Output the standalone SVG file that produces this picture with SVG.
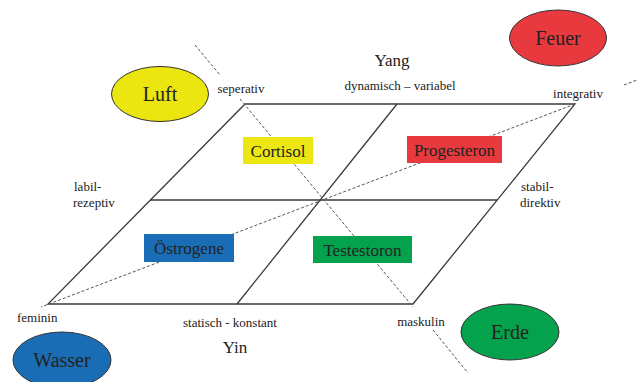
<svg xmlns="http://www.w3.org/2000/svg" width="637" height="382" viewBox="0 0 637 382">
<style>
.edge{stroke:#3a3a3a;stroke-width:1.3;fill:none}
.dash{stroke:#555;stroke-width:1;stroke-dasharray:3 2;fill:none}
.t{font-family:"Liberation Serif",serif;fill:#222}
.s{font-size:13px}
.m{font-size:17px}
.b{font-size:17px}
.e{font-size:20px}
.ell{stroke:#333;stroke-width:1}
</style>
<rect width="637" height="382" fill="#fff"/>
<g id="connectors">
<path class="edge" d="M245,104 L575,104 L413,304 L48,304 Z"/>
<line class="edge" x1="150" y1="200" x2="497" y2="200"/>
<line class="edge" x1="397" y1="104" x2="237" y2="304"/>
<line class="dash" x1="195" y1="45" x2="220" y2="75"/>
<line class="dash" x1="240" y1="99" x2="413" y2="307"/>
<line class="dash" x1="433" y1="330" x2="468" y2="373"/>
<line class="dash" x1="575" y1="104" x2="41" y2="307"/>
<line class="dash" x1="624" y1="85" x2="637" y2="80"/>
</g>
<g id="cortisol"><rect x="243" y="137" width="70" height="27" fill="#ece713"/><text class="t b" x="278" y="157" text-anchor="middle">Cortisol</text></g>
<g id="progesteron"><rect x="407" y="136" width="95" height="27" fill="#e8393f"/><text class="t b" x="454.5" y="156" text-anchor="middle">Progesteron</text></g>
<g id="oestrogene"><rect x="144" y="234" width="90" height="28" fill="#1a6db5"/><text class="t b" x="189" y="254" text-anchor="middle">Östrogene</text></g>
<g id="testestoron"><rect x="313" y="236" width="99" height="27" fill="#04a24c"/><text class="t b" x="362.5" y="256" text-anchor="middle">Testestoron</text></g>
<g id="luft"><ellipse class="ell" cx="160" cy="94" rx="48.5" ry="27.5" fill="#ebe510"/><text class="t e" x="160" y="101" text-anchor="middle">Luft</text></g>
<g id="feuer"><ellipse class="ell" cx="558" cy="38" rx="48.5" ry="28" fill="#e8393f"/><text class="t e" x="558" y="45" text-anchor="middle">Feuer</text></g>
<g id="wasser"><ellipse class="ell" cx="62" cy="360" rx="49" ry="28" fill="#1a6db5"/><text class="t e" x="62" y="367" text-anchor="middle">Wasser</text></g>
<g id="erde"><ellipse class="ell" cx="510" cy="332" rx="49" ry="28" fill="#04a24c"/><text class="t e" x="510" y="339" text-anchor="middle">Erde</text></g>
<g id="labels">
<text class="t m" x="392" y="66" text-anchor="middle">Yang</text>
<text class="t s" x="400" y="90" text-anchor="middle">dynamisch – variabel</text>
<text class="t s" x="578" y="98" text-anchor="middle">integrativ</text>
<text class="t s" x="241" y="93" text-anchor="middle">seperativ</text>
<text class="t s" x="74" y="191">labil-</text>
<text class="t s" x="73" y="207">rezeptiv</text>
<text class="t s" x="521" y="191">stabil-</text>
<text class="t s" x="520" y="207">direktiv</text>
<text class="t s" x="17" y="322">feminin</text>
<text class="t s" x="230" y="327" text-anchor="middle">statisch - konstant</text>
<text class="t m" x="235" y="353" text-anchor="middle">Yin</text>
<text class="t s" x="421" y="326" text-anchor="middle">maskulin</text>
</g>
</svg>
